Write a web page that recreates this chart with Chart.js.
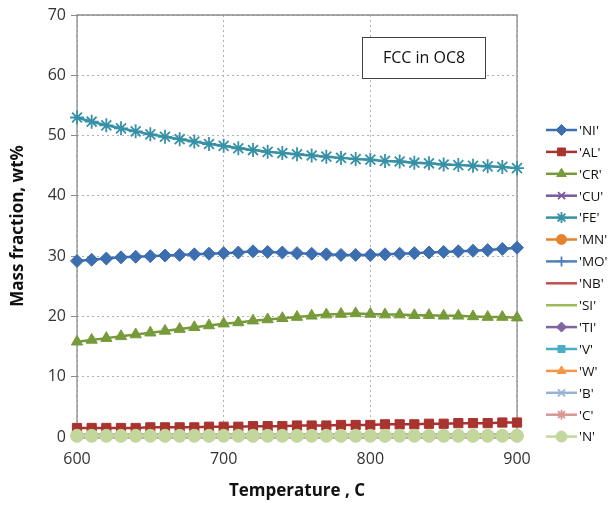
<!DOCTYPE html>
<html>
<head>
<meta charset="utf-8">
<script src="https://cdn.jsdelivr.net/npm/chart.js@4.4.1/dist/chart.umd.min.js"></script>
<style>
  html, body { margin: 0; padding: 0; background: #fff; }
</style>
</head>
<body>
<canvas id="chart" width="614" height="505"></canvas>
<script>
// temperatures (C)
const temps = [600, 610, 620, 630, 640, 650, 660, 670, 680, 690, 700, 710, 720, 730, 740, 750,
               760, 770, 780, 790, 800, 810, 820, 830, 840, 850, 860, 870, 880, 890, 900];

// mass fractions (wt%)
const ni = [29.2, 29.4, 29.6, 29.8, 29.9, 30.0, 30.1, 30.2, 30.3, 30.4, 30.5, 30.6, 30.8, 30.7, 30.6, 30.5,
            30.4, 30.3, 30.2, 30.2, 30.2, 30.3, 30.4, 30.5, 30.6, 30.7, 30.8, 30.9, 31.0, 31.2, 31.4];
const al = [1.5, 1.5, 1.5, 1.5, 1.5, 1.6, 1.6, 1.6, 1.6, 1.7, 1.7, 1.7, 1.8, 1.8, 1.8, 1.9,
            1.9, 1.9, 2.0, 2.0, 2.0, 2.1, 2.1, 2.1, 2.2, 2.2, 2.3, 2.3, 2.3, 2.4, 2.4];
const cr = [15.8, 16.1, 16.4, 16.7, 17.0, 17.3, 17.6, 17.9, 18.2, 18.5, 18.8, 19.0, 19.3, 19.5, 19.7, 19.9,
            20.1, 20.3, 20.4, 20.5, 20.4, 20.3, 20.3, 20.2, 20.2, 20.1, 20.1, 20.0, 19.9, 19.9, 19.8];
const cu = [0.0, 0.0, 0.0, 0.0, 0.0, 0.0, 0.0, 0.0, 0.0, 0.0, 0.0, 0.0, 0.0, 0.0, 0.0, 0.0,
            0.0, 0.0, 0.0, 0.0, 0.0, 0.0, 0.0, 0.0, 0.0, 0.0, 0.0, 0.0, 0.0, 0.0, 0.0];
const fe = [53.0, 52.3, 51.7, 51.2, 50.7, 50.2, 49.8, 49.4, 49.0, 48.6, 48.3, 47.9, 47.6, 47.3, 47.1, 46.9,
            46.7, 46.5, 46.3, 46.1, 46.0, 45.8, 45.7, 45.5, 45.4, 45.2, 45.1, 45.0, 44.9, 44.8, 44.6];
const mn = [0.2, 0.2, 0.2, 0.2, 0.2, 0.2, 0.2, 0.2, 0.2, 0.2, 0.2, 0.2, 0.2, 0.2, 0.2, 0.2,
            0.2, 0.2, 0.2, 0.2, 0.2, 0.2, 0.2, 0.2, 0.2, 0.2, 0.2, 0.2, 0.2, 0.2, 0.2];
const mo = [0.1, 0.1, 0.1, 0.1, 0.1, 0.1, 0.1, 0.1, 0.1, 0.1, 0.1, 0.1, 0.1, 0.1, 0.1, 0.1,
            0.1, 0.1, 0.1, 0.1, 0.1, 0.1, 0.1, 0.1, 0.1, 0.1, 0.1, 0.1, 0.1, 0.1, 0.1];
const nb = [0.0, 0.0, 0.0, 0.0, 0.0, 0.0, 0.0, 0.0, 0.0, 0.0, 0.0, 0.0, 0.0, 0.0, 0.0, 0.0,
            0.0, 0.0, 0.0, 0.0, 0.0, 0.0, 0.0, 0.0, 0.0, 0.0, 0.0, 0.0, 0.0, 0.0, 0.0];
const si = [0.1, 0.1, 0.1, 0.1, 0.1, 0.1, 0.1, 0.1, 0.1, 0.1, 0.1, 0.1, 0.1, 0.1, 0.1, 0.1,
            0.1, 0.1, 0.1, 0.1, 0.1, 0.1, 0.1, 0.1, 0.1, 0.1, 0.1, 0.1, 0.1, 0.1, 0.1];
const ti = [0.0, 0.0, 0.0, 0.0, 0.0, 0.0, 0.0, 0.0, 0.0, 0.0, 0.0, 0.0, 0.0, 0.0, 0.0, 0.0,
            0.0, 0.0, 0.0, 0.0, 0.0, 0.0, 0.0, 0.0, 0.0, 0.0, 0.0, 0.0, 0.0, 0.0, 0.0];
const v  = [0.4, 0.4, 0.4, 0.4, 0.4, 0.4, 0.4, 0.4, 0.4, 0.4, 0.4, 0.4, 0.4, 0.4, 0.4, 0.4,
            0.4, 0.4, 0.4, 0.4, 0.4, 0.4, 0.4, 0.4, 0.4, 0.4, 0.4, 0.4, 0.4, 0.4, 0.4];
const w  = [0.3, 0.3, 0.3, 0.3, 0.3, 0.3, 0.3, 0.3, 0.3, 0.3, 0.3, 0.3, 0.3, 0.3, 0.3, 0.3,
            0.3, 0.3, 0.3, 0.3, 0.3, 0.3, 0.3, 0.3, 0.3, 0.3, 0.3, 0.3, 0.3, 0.3, 0.3];
const b  = [0.0, 0.0, 0.0, 0.0, 0.0, 0.0, 0.0, 0.0, 0.0, 0.0, 0.0, 0.0, 0.0, 0.0, 0.0, 0.0,
            0.0, 0.0, 0.0, 0.0, 0.0, 0.0, 0.0, 0.0, 0.0, 0.0, 0.0, 0.0, 0.0, 0.0, 0.0];
const c  = [0.0, 0.0, 0.0, 0.0, 0.0, 0.0, 0.0, 0.0, 0.0, 0.0, 0.0, 0.0, 0.0, 0.0, 0.0, 0.0,
            0.0, 0.0, 0.0, 0.0, 0.0, 0.0, 0.0, 0.0, 0.0, 0.0, 0.0, 0.0, 0.0, 0.0, 0.0];
const n  = [0.2, 0.2, 0.2, 0.2, 0.2, 0.2, 0.2, 0.2, 0.2, 0.2, 0.2, 0.2, 0.2, 0.2, 0.2, 0.2,
            0.2, 0.2, 0.2, 0.2, 0.2, 0.2, 0.2, 0.2, 0.2, 0.2, 0.2, 0.2, 0.2, 0.2, 0.2];

const yTicks = [0, 10, 20, 30, 40, 50, 60, 70];
const xTicks = [600, 700, 800, 900];

const seriesNames = ['NI', 'AL', 'CR', 'CU', 'FE', 'MN', 'MO', 'NB', 'SI', 'TI', 'V', 'W', 'B', 'C', 'N'];
const seriesValues = [ni, al, cr, cu, fe, mn, mo, nb, si, ti, v, w, b, c, n];

// look of each series: colour, marker, marker radius
const looks = [
  ['#3c6eb0', 'rectRot', 6.5],
  ['#a8332f', 'rect', 6.5],
  ['#779a3a', 'triangle', 6.5],
  ['#7a5a9e', 'crossRot', 5],
  ['#3791a6', 'star', 7],
  ['#e5822b', 'circle', 5],
  ['#4f81bd', 'cross', 5],
  ['#c0504d', false, 0],
  ['#9bbb59', false, 0],
  ['#8064a2', 'rectRot', 5],
  ['#4bacc6', 'rect', 5],
  ['#f79646', 'triangle', 5],
  ['#95b3d7', 'crossRot', 5],
  ['#d99694', 'star', 5],
  ['#c3d69b', 'circle', 6.5]
];

const datasets = seriesNames.map(function(name, i) {
  const look = looks[i];
  return {
    label: name,
    data: temps.map(function(t, k) { return { x: t, y: seriesValues[i][k] }; }),
    borderColor: look[0],
    backgroundColor: look[0],
    pointBackgroundColor: look[0],
    pointBorderColor: look[0],
    pointStyle: look[1],
    pointRadius: look[2],
    pointBorderWidth: (look[1] === 'star' || look[1] === 'cross' || look[1] === 'crossRot') ? 1.8 : 1,
    borderWidth: 2.5,
    order: seriesNames.length - i,
    clip: false
  };
});

// frame around the plot and the text box
const framePlugin = {
  id: 'frame',
  beforeDatasetsDraw(chart) {
    const a = chart.chartArea;
    const ctx = chart.ctx;
    ctx.save();
    ctx.strokeStyle = '#8c8c8c';
    ctx.lineWidth = 1.3;
    ctx.setLineDash([]);
    ctx.beginPath();
    ctx.moveTo(a.left, a.bottom);
    ctx.lineTo(a.left, a.top);
    ctx.lineTo(a.right, a.top);
    ctx.lineTo(a.right, a.bottom);
    ctx.lineTo(a.left, a.bottom);
    ctx.stroke();
    ctx.restore();
  },
  afterDraw(chart) {
    const ctx = chart.ctx;
    ctx.save();
    ctx.fillStyle = '#fff';
    ctx.strokeStyle = '#404040';
    ctx.lineWidth = 1;
    ctx.fillRect(362, 37, 123, 41);
    ctx.strokeRect(362.5, 37.5, 123, 41);
    ctx.fillStyle = '#111';
    ctx.font = '16px "Open Sans"';
    ctx.textAlign = 'center';
    ctx.textBaseline = 'middle';
    ctx.fillText('FCC in OC8', 424, 58);
    ctx.restore();
  }
};

// legend with line + marker like the original
const sideLegend = {
  id: 'sideLegend',
  afterDraw(chart) {
    const ctx = chart.ctx;
    chart.data.datasets.forEach(function(ds, i) {
      const y = 130 + i * 21.9;
      ctx.save();
      ctx.strokeStyle = ds.borderColor;
      ctx.lineWidth = 2.5;
      ctx.beginPath();
      ctx.moveTo(546, y);
      ctx.lineTo(577, y);
      ctx.stroke();
      if (ds.pointStyle) {
        ctx.fillStyle = ds.pointBackgroundColor;
        ctx.strokeStyle = ds.pointBorderColor;
        ctx.lineWidth = ds.pointBorderWidth;
        Chart.helpers.drawPoint(ctx, {
          pointStyle: ds.pointStyle,
          radius: Math.min(ds.pointRadius, 5.5),
          rotation: 0,
          borderWidth: ds.pointBorderWidth
        }, 561.5, y);
      }
      ctx.fillStyle = '#111';
      ctx.font = '13.5px "Open Sans"';
      ctx.textBaseline = 'middle';
      ctx.fillText("'" + ds.label + "'", 579, y + 1);
      ctx.restore();
    });
  }
};

new Chart(document.getElementById('chart'), {
  type: 'line',
  data: { datasets: datasets },
  options: {
    responsive: false,
    animation: false,
    layout: { padding: { top: 15, right: 97, left: 8, bottom: 0 } },
    plugins: {
      legend: { display: false },
      tooltip: { enabled: false }
    },
    scales: {
      x: {
        type: 'linear',
        min: 600,
        max: 900,
        afterBuildTicks: function(axis) { axis.ticks = xTicks.map(function(t) { return { value: t }; }); },
        afterFit: function(axis) { axis.height = 68; },
        ticks: { color: '#333', font: { family: 'Open Sans', size: 16 }, padding: 8 },
        grid: {
          color: '#b0b0b0',
          tickBorderDash: [],
          tickColor: '#8c8c8c',
          tickLength: 5,
          lineWidth: 1
        },
        border: { display: false, dash: [2, 3] },
        title: {
          display: true,
          text: 'Temperature , C',
          color: '#111',
          font: { family: 'Open Sans', size: 17, weight: 'bold' },
          padding: { top: 2, bottom: 4 }
        }
      },
      y: {
        min: 0,
        max: 70,
        afterBuildTicks: function(axis) { axis.ticks = yTicks.map(function(t) { return { value: t }; }); },
        afterFit: function(axis) { axis.width = 69; },
        ticks: { color: '#333', font: { family: 'Open Sans', size: 16 }, padding: 5 },
        grid: {
          color: '#b0b0b0',
          tickBorderDash: [],
          tickColor: '#8c8c8c',
          tickLength: 6,
          lineWidth: 1
        },
        border: { display: false, dash: [2, 3] },
        title: {
          display: true,
          text: 'Mass fraction, wt%',
          color: '#111',
          font: { family: 'Open Sans', size: 17, weight: 'bold' },
          padding: { top: 0, bottom: 2 }
        }
      }
    }
  },
  plugins: [framePlugin, sideLegend]
});
</script>
</body>
</html>
